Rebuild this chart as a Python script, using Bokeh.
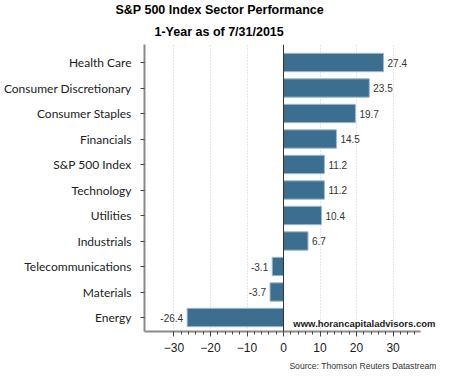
from bokeh.plotting import figure
from bokeh.models import (Range1d, FixedTicker, Label, Span, ColumnDataSource,
                          LabelSet, Title)
from bokeh.core.properties import value
from bokeh.embed import file_html
from bokeh.resources import INLINE

categories = ["Health Care", "Consumer Discretionary", "Consumer Staples",
              "Financials", "S&P 500 Index", "Technology", "Utilities",
              "Industrials", "Telecommunications", "Materials", "Energy"]
returns = [27.4, 23.5, 19.7, 14.5, 11.2, 11.2, 10.4, 6.7, -3.1, -3.7, -26.4]
x_ticks = [-30, -20, -10, 0, 10, 20, 30]
x_minor = list(range(-30, 37, 2))

title1 = "S&P 500 Index Sector Performance"
title2 = "1-Year as of 7/31/2015"
watermark = "www.horancapitaladvisors.com"
source_note = "Source: Thomson Reuters Datastream"

n = len(categories)
ypos = [n - 1 - i for i in range(n)]

src = ColumnDataSource(dict(
    y=ypos, v=returns,
    lab=[f"{v:.1f}" for v in returns],
    off=[4 if v >= 0 else -4 for v in returns],
    align=["left" if v >= 0 else "right" for v in returns],
))

X0, X1, XAX = -38.08, 41.9, 37.5
Y0, Y1 = -0.549, 10.706

p = figure(width=436, height=374, output_backend="svg", toolbar_location=None,
           x_range=Range1d(X0, X1), y_range=Range1d(Y0, Y1),
           min_border_left=144, min_border_right=0, min_border_top=44,
           min_border_bottom=43)
p.title.visible = False
p.outline_line_color = None
p.background_fill_color = "white"

p.hbar(y="y", right="v", left=0, height=0.72, source=src,
       fill_color="#3c6e90", line_color="#9fbad0", line_width=1)

labels = LabelSet(x="v", y="y", text="lab", x_offset="off", source=src,
                  text_align="align", text_baseline="middle",
                  text_font=value("Liberation Sans"), text_font_size="10px",
                  text_color="#333333")
p.add_layout(labels)

# axes
p.yaxis.ticker = FixedTicker(ticks=ypos)
p.yaxis.major_label_overrides = {y: c for y, c in zip(ypos, categories)}
p.yaxis.major_label_text_font = "Lato"
p.yaxis.major_label_text_font_size = "12px"
p.yaxis.major_label_text_color = "#222222"
p.yaxis.axis_line_color = "#8a8a8a"
p.yaxis.axis_line_width = 2
p.yaxis.major_tick_out = 4
p.yaxis.major_tick_in = 0
p.yaxis.major_tick_line_color = "#444444"
p.yaxis.minor_tick_line_color = None
p.yaxis.major_label_standoff = 9

p.xaxis.bounds = (X0, XAX)
p.xaxis.ticker = FixedTicker(ticks=x_ticks, minor_ticks=x_minor)
p.xaxis.major_label_text_font = "Liberation Sans"
p.xaxis.major_label_text_font_size = "12px"
p.xaxis.major_label_text_color = "#1a1a1a"
p.xaxis.axis_line_color = "#8a8a8a"
p.xaxis.axis_line_width = 2
p.xaxis.major_tick_out = 5
p.xaxis.major_tick_in = 0
p.xaxis.minor_tick_out = 3
p.xaxis.minor_tick_in = 0
p.xaxis.major_tick_line_color = "#444444"
p.xaxis.minor_tick_line_color = "#444444"
p.xaxis.major_label_standoff = 6

p.xgrid.ticker = FixedTicker(ticks=x_ticks)
p.xgrid.grid_line_color = "#cccccc"
p.xgrid.grid_line_dash = "1 2"
p.ygrid.grid_line_color = None

p.add_layout(Span(location=0, dimension="height", line_color="#333333",
                  line_width=1))

# texts
p.add_layout(Title(text=title2, align="left", offset=10, standoff=11.5,
                   text_font="Liberation Sans", text_font_style="bold",
                   text_font_size="12.5px", text_color="#000000"), "above")
p.add_layout(Title(text=title1, align="left", offset=-29, standoff=0,
                   text_font="Liberation Sans", text_font_style="bold",
                   text_font_size="12.5px", text_color="#000000"), "above")
p.add_layout(Label(x=291, y=8, x_units="screen", y_units="screen",
                   text=watermark, text_align="right", text_baseline="middle",
                   text_font="Liberation Sans", text_font_style="bold",
                   text_font_size="9.5px", text_color="#222222"))
p.add_layout(Title(text=source_note, align="right", offset=0, standoff=8,
                   text_font="Liberation Sans", text_font_style="normal",
                   text_font_size="8.6px", text_color="#333333"), "below")

open("out.html", "w").write(file_html(p, INLINE))
